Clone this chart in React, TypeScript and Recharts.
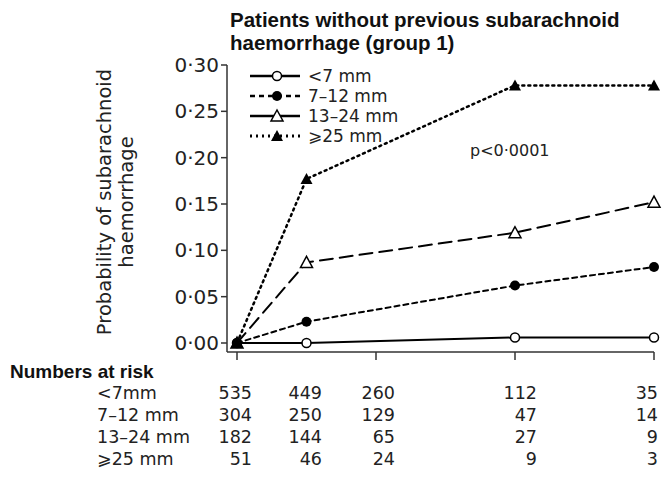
import React from 'react';
import { Line, LineChart, XAxis, YAxis } from 'recharts';

// follow-up time points (years) and cumulative probability per size group
const times = [0, 0.5, 2, 3];
const lt7 = [0, 0, 0.006, 0.006];
const mm7to12 = [0, 0.023, 0.062, 0.082];
const mm13to24 = [0, 0.087, 0.119, 0.152];
const ge25 = [0, 0.177, 0.278, 0.278];

const yTicks = [0, 0.05, 0.1, 0.15, 0.2, 0.25, 0.3];
const xTicks = [0, 1, 2, 3];

const groupNames = ['<7 mm', '7–12 mm', '13–24 mm', '⩾25 mm'];

// numbers at risk table
const riskLabels = ['<7mm', '7–12 mm', '13–24 mm', '⩾25 mm'];
const riskLt7 = [535, 449, 260, 112, 35];
const risk7to12 = [304, 250, 129, 47, 14];
const risk13to24 = [182, 144, 65, 27, 9];
const riskGe25 = [51, 46, 24, 9, 3];
const riskRows = [riskLt7, risk7to12, risk13to24, riskGe25];

const data = times.map((t, i) => ({
  t,
  a: lt7[i],
  b: mm7to12[i],
  c: mm13to24[i],
  d: ge25[i],
}));

const FONT = '"DejaVu Sans", sans-serif';
const BOLD = '"Liberation Sans", Arial, sans-serif';

const series = [
  { key: 'a', name: groupNames[0], dash: undefined, width: 2, marker: 'circleOpen' },
  { key: 'b', name: groupNames[1], dash: '5 4', width: 2, marker: 'circle' },
  { key: 'c', name: groupNames[2], dash: '13 7', width: 2, marker: 'triangleOpen' },
  { key: 'd', name: groupNames[3], dash: '2 4', width: 2.5, marker: 'triangle' },
];

function Marker({ kind, cx, cy }: { kind: string; cx: number; cy: number }) {
  if (kind === 'circleOpen')
    return <circle cx={cx} cy={cy} r={4.5} fill="#fff" stroke="#000" strokeWidth={1.5} />;
  if (kind === 'circle') return <circle cx={cx} cy={cy} r={5} fill="#000" />;
  const pts = `${cx},${cy - 6} ${cx - 6},${cy + 5} ${cx + 6},${cy + 5}`;
  if (kind === 'triangleOpen')
    return <polygon points={pts} fill="#fff" stroke="#000" strokeWidth={1.5} />;
  return <polygon points={pts} fill="#000" />;
}

const dotFor = (kind: string) => (props: any) => {
  const { cx, cy, index } = props;
  if (cx == null || cy == null) return <g key={index} />;
  return <Marker key={index} kind={kind} cx={cx} cy={cy} />;
};

function LegendBox() {
  return (
    <div
      style={{
        position: 'absolute',
        left: 250,
        top: 66,
        fontFamily: FONT,
        fontSize: 17,
        color: '#222',
      }}
    >
      {series.map((s) => (
        <div key={s.key} style={{ display: 'flex', alignItems: 'center', height: 20 }}>
          <svg width={54} height={20}>
            <line
              x1={0}
              x2={50}
              y1={10}
              y2={10}
              stroke="#000"
              strokeWidth={s.width + 0.5}
              strokeDasharray={s.dash === '13 7' ? undefined : s.dash}
            />
            <Marker kind={s.marker} cx={27} cy={10} />
          </svg>
          <span style={{ marginLeft: 4 }}>{s.name}</span>
        </div>
      ))}
    </div>
  );
}

const fmt = (v: number) => v.toFixed(2).replace('.', '·');

// right edges of the numbers-at-risk columns
const colRight = [252, 322, 395, 537, 658];
const rowY = [383, 405, 427, 449];

export default function App() {
  return (
    <div style={{ position: 'relative', width: 662, height: 478, background: '#fff' }}>
      <style>{'body{margin:0}'}</style>
      <LineChart
        width={662}
        height={478}
        data={data}
        margin={{ top: 65, right: 8, left: 0, bottom: 116 }}
      >
        <XAxis
          dataKey="t"
          type="number"
          domain={[0, 3]}
          ticks={xTicks}
          tickFormatter={() => ''}
          padding={{ left: 10, right: 0 }}
          height={10}
          tickSize={8}
          stroke="#333"
          strokeWidth={1.5}
        />
        <YAxis
          type="number"
          domain={[0, 0.3]}
          ticks={yTicks}
          tickFormatter={fmt}
          width={227}
          padding={{ top: 0, bottom: 9 }}
          tickSize={6}
          stroke="#333"
          strokeWidth={1.5}
          tick={{ fill: '#222', fontSize: 20, fontFamily: FONT }}
        />
        {series.map((s) => (
          <Line
            key={s.key}
            dataKey={s.key}
            name={s.name}
            type="linear"
            stroke="#000"
            strokeWidth={s.width}
            strokeDasharray={s.dash}
            strokeLinecap="round"
            dot={dotFor(s.marker)}
            isAnimationActive={false}
          />
        ))}
      </LineChart>

      <LegendBox />

      <div
        style={{
          position: 'absolute',
          left: 230,
          top: 8,
          fontFamily: BOLD,
          fontWeight: 'bold',
          fontSize: 20.5,
          lineHeight: '23px',
          color: '#111',
          whiteSpace: 'nowrap',
        }}
      >
        Patients without previous subarachnoid
        <br />
        haemorrhage (group 1)
      </div>

      <div
        style={{
          position: 'absolute',
          left: 116 - 160,
          top: 202 - 22,
          width: 320,
          height: 44,
          transform: 'rotate(-90deg)',
          textAlign: 'center',
          fontFamily: FONT,
          fontSize: 19.5,
          lineHeight: '22px',
          color: '#222',
          whiteSpace: 'nowrap',
        }}
      >
        Probability of subarachnoid
        <br />
        haemorrhage
      </div>

      <div
        style={{
          position: 'absolute',
          left: 470,
          top: 141,
          fontFamily: FONT,
          fontSize: 16,
          color: '#222',
        }}
      >
        p&lt;0·0001
      </div>

      <div
        style={{
          position: 'absolute',
          left: 10,
          top: 361,
          fontFamily: BOLD,
          fontWeight: 'bold',
          fontSize: 19,
          color: '#111',
        }}
      >
        Numbers at risk
      </div>
      {riskRows.map((row, r) => (
        <React.Fragment key={r}>
          <div
            style={{
              position: 'absolute',
              left: 97,
              top: rowY[r],
              fontFamily: FONT,
              fontSize: 17.5,
              color: '#222',
              whiteSpace: 'nowrap',
            }}
          >
            {riskLabels[r]}
          </div>
          {row.map((n, c) => (
            <div
              key={c}
              style={{
                position: 'absolute',
                left: colRight[c] - 60,
                width: 60,
                top: rowY[r],
                textAlign: 'right',
                fontFamily: FONT,
                fontSize: 17.5,
                color: '#222',
              }}
            >
              {n}
            </div>
          ))}
        </React.Fragment>
      ))}
    </div>
  );
}
